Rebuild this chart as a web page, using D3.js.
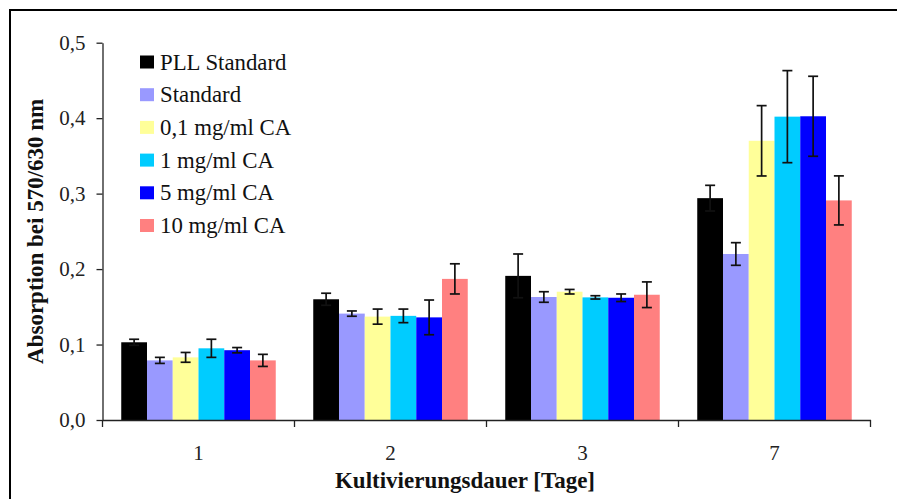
<!DOCTYPE html>
<html>
<head>
<meta charset="utf-8">
<script src="https://cdn.jsdelivr.net/npm/d3@7"></script>
<style>
  html, body { margin: 0; padding: 0; background: #fff; }
  svg { display: block; }
  svg text { font-family: "Times New Roman", "Liberation Serif", Tinos, serif; }
</style>
</head>
<body>
<svg id="chart" width="899" height="499"></svg>
<script>
// Culture days on the x axis
const categories = ["1", "2", "3", "7"];
// Sample groups (legend order)
const seriesNames = ["PLL Standard", "Standard", "0,1 mg/ml CA", "1 mg/ml CA", "5 mg/ml CA", "10 mg/ml CA"];
const seriesColors = ["#000000", "#9999FF", "#FFFF99", "#00CCFF", "#0000FF", "#FF8080"];
// Mean absorption per group, one entry per culture day
const pllStandard = [0.103, 0.160, 0.191, 0.294];
const standard    = [0.079, 0.141, 0.163, 0.220];
const ca01        = [0.083, 0.137, 0.170, 0.370];
const ca1         = [0.095, 0.138, 0.1625, 0.402];
const ca5         = [0.0925, 0.136, 0.162, 0.4025];
const ca10        = [0.079, 0.187, 0.166, 0.291];
// Standard deviations
const pllStandardErr = [0.004, 0.008, 0.029, 0.017];
const standardErr    = [0.004, 0.0035, 0.007, 0.015];
const ca01Err        = [0.0065, 0.010, 0.003, 0.0466];
const ca1Err         = [0.012, 0.009, 0.0022, 0.061];
const ca5Err         = [0.0035, 0.023, 0.005, 0.053];
const ca10Err        = [0.008, 0.020, 0.017, 0.0325];
// Y axis ticks
const yTicks = [0, 0.1, 0.2, 0.3, 0.4, 0.5];

const seriesValues = [pllStandard, standard, ca01, ca1, ca5, ca10];
const seriesErrors = [pllStandardErr, standardErr, ca01Err, ca1Err, ca5Err, ca10Err];

const rows = [];
seriesNames.forEach((name, si) => {
  categories.forEach((cat, ci) => {
    rows.push({ series: name, color: seriesColors[si], cat, value: seriesValues[si][ci], err: seriesErrors[si][ci] });
  });
});

const FONT = "'Times New Roman', 'Liberation Serif', Tinos, serif";
const svg = d3.select("#chart");
const plotLeft = 102.5, plotRight = 870.5, plotTop = 42.7, plotBottom = 420;

const de = d3.formatLocale({ decimal: ",", thousands: ".", grouping: [3], currency: ["", " €"] });
const fmt = de.format(".1f");

const x0 = d3.scaleBand().domain(categories).range([plotLeft, plotRight]).padding(0);
const x1 = d3.scaleBand().domain(seriesNames).range([0, x0.bandwidth()]).paddingInner(0).paddingOuter(0.728);
const y = d3.scaleLinear().domain([0, 0.5]).range([plotBottom, plotTop]);

// Outer frame (open on the right and bottom)
svg.append("path")
  .attr("d", "M10,505V10H897")
  .attr("fill", "none")
  .attr("stroke", "#000")
  .attr("stroke-width", 2);

// Bars
svg.append("g").selectAll("rect")
  .data(rows)
  .join("rect")
  .attr("x", d => x0(d.cat) + x1(d.series))
  .attr("y", d => y(d.value))
  .attr("width", x1.bandwidth())
  .attr("height", d => y(0) - y(d.value))
  .attr("fill", d => d.color);

// Error bars
const capHalf = 5;
const eb = svg.append("g").attr("stroke", "#111").attr("stroke-width", 1.7).attr("fill", "none");
rows.forEach(d => {
  const cx = x0(d.cat) + x1(d.series) + x1.bandwidth() / 2;
  const y1 = y(d.value + d.err), y2 = y(d.value - d.err);
  eb.append("line").attr("x1", cx).attr("x2", cx).attr("y1", y1).attr("y2", y2);
  eb.append("line").attr("x1", cx - capHalf).attr("x2", cx + capHalf).attr("y1", y1).attr("y2", y1);
  eb.append("line").attr("x1", cx - capHalf).attr("x2", cx + capHalf).attr("y1", y2).attr("y2", y2);
});

// Y axis
const yAxis = svg.append("g")
  .attr("transform", `translate(${plotLeft},0)`)
  .call(d3.axisLeft(y).tickValues(yTicks).tickFormat(fmt).tickSize(6).tickSizeOuter(0).tickPadding(11));
yAxis.attr("font-family", FONT);
yAxis.selectAll("path, line").attr("stroke", "#222").attr("stroke-width", 1.3);
yAxis.selectAll("text").style("font-family", FONT).attr("font-size", 21).attr("fill", "#222");

// X axis: baseline with ticks at the group boundaries, labels at group centres
const xAxis = svg.append("g").attr("transform", `translate(0,${plotBottom})`);
xAxis.call(d3.axisBottom(x0).tickSize(0).tickSizeOuter(0).tickPadding(25));
xAxis.attr("font-family", FONT);
xAxis.select(".domain").attr("stroke", "#222").attr("stroke-width", 1.3);
xAxis.selectAll("text").style("font-family", FONT).attr("font-size", 21).attr("fill", "#222");
const boundaries = categories.map(c => x0(c)).concat([plotRight]);
xAxis.selectAll("line.boundary")
  .data(boundaries)
  .join("line")
  .attr("class", "boundary")
  .attr("x1", d => d).attr("x2", d => d)
  .attr("y1", 0).attr("y2", 7)
  .attr("stroke", "#222").attr("stroke-width", 1.3);

// Axis titles
svg.append("text")
  .attr("transform", `translate(43,${(plotTop + plotBottom) / 2}) rotate(-90)`)
  .attr("text-anchor", "middle")
  .style("font-family", FONT)
  .attr("font-weight", "bold")
  .attr("font-size", 23)
  .attr("fill", "#111")
  .text("Absorption bei 570/630 nm");

svg.append("text")
  .attr("x", 465)
  .attr("y", 488)
  .attr("text-anchor", "middle")
  .style("font-family", FONT)
  .attr("font-weight", "bold")
  .attr("font-size", 23)
  .attr("fill", "#111")
  .text("Kultivierungsdauer [Tage]");

// Legend
const legend = svg.append("g").selectAll("g")
  .data(seriesNames)
  .join("g")
  .attr("transform", (d, i) => `translate(140,${62 + i * 32.7})`);
legend.append("rect")
  .attr("x", 0).attr("y", -6.5)
  .attr("width", 14).attr("height", 13)
  .attr("fill", (d, i) => seriesColors[i]);
legend.append("text")
  .attr("x", 20)
  .attr("y", 7.5)
  .style("font-family", FONT)
  .attr("font-size", 22.8)
  .attr("fill", "#111")
  .text(d => d);
</script>
</body>
</html>
